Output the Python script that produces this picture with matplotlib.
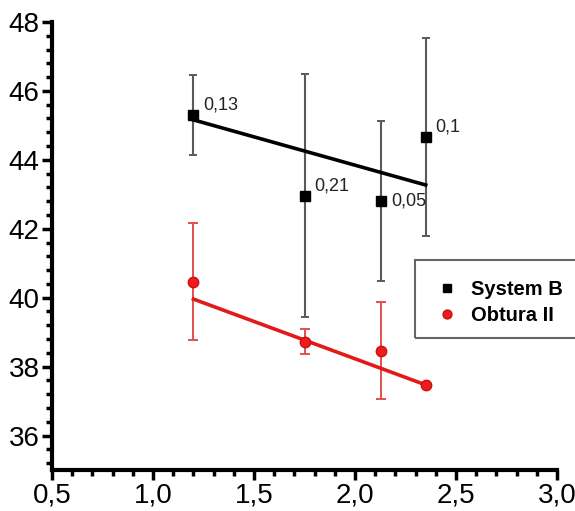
import matplotlib
matplotlib.use("Agg")
import matplotlib.pyplot as plt
from matplotlib.ticker import MultipleLocator, FuncFormatter
from matplotlib.patches import Rectangle

plt.rcParams['font.family'] = ['Liberation Sans', 'DejaVu Sans']

# Data
x_vals = [1.2, 1.75, 2.13, 2.35]
sysb_y = [45.30, 42.96, 42.81, 44.67]
sysb_err = [1.17, 3.53, 2.33, 2.88]
sysb_labels = ["0,13", "0,21", "0,05", "0,1"]
sysb_fit_x = [1.2, 2.35]
sysb_fit_y = [45.16, 43.27]

obt_y = [40.46, 38.72, 38.46, 37.47]
obt_err = [1.70, 0.36, 1.41, 0.0]
obt_fit_x = [1.2, 2.35]
obt_fit_y = [39.96, 37.47]

x_ticks = [0.5, 1.0, 1.5, 2.0, 2.5, 3.0]
y_ticks = [36, 38, 40, 42, 44, 46, 48]

fig = plt.figure(figsize=(5.75, 5.11), dpi=100)
ax = fig.add_axes([52/575, 1-470/511, (557-52)/575, (470-22)/511])

# System B
ax.errorbar(x_vals, sysb_y, yerr=sysb_err, fmt='none', ecolor='#5a5a5a',
            elinewidth=1.5, capsize=3, capthick=1.4, zorder=2)
ax.plot(sysb_fit_x, sysb_fit_y, color='black', lw=2.6, zorder=3)
ax.plot(x_vals, sysb_y, 's', color='black', ms=6.5, zorder=4, label='System B')

# Obtura II
ax.errorbar(x_vals, obt_y, yerr=obt_err, fmt='none', ecolor='#e05050',
            elinewidth=1.4, capsize=3.5, capthick=1.4, zorder=2)
ax.plot(obt_fit_x, obt_fit_y, color='#e31a1a', lw=2.6, zorder=3)
ax.plot(x_vals, obt_y, 'o', color='#ee1c1c', mec='#cc1010', ms=7.5, zorder=4, label='Obtura II')

# annotations
offsets = [(7, 1), (7, 1), (7, -6), (7, 1)]
for xv, yv, lab, off in zip(x_vals, sysb_y, sysb_labels, offsets):
    ax.annotate(lab, (xv, yv), xytext=off, textcoords='offset points',
                fontsize=13, color='#222222', va='bottom', ha='left')

ax.set_xlim(0.5, 3.0)
ax.set_ylim(35.0, 48.0)
ax.set_xticks(x_ticks)
ax.set_yticks(y_ticks)
ax.xaxis.set_minor_locator(MultipleLocator(0.1))
ax.yaxis.set_minor_locator(MultipleLocator(0.4))
ax.xaxis.set_major_formatter(FuncFormatter(lambda v, p: f"{v:.1f}".replace('.', ',')))
ax.yaxis.set_major_formatter(FuncFormatter(lambda v, p: f"{v:.0f}"))

for s in ['top', 'right']:
    ax.spines[s].set_visible(False)
for s in ['left', 'bottom']:
    ax.spines[s].set_linewidth(3)
ax.tick_params(which='major', length=7, width=2.5, labelsize=20, pad=2)
ax.tick_params(which='minor', length=4.5, width=2.5)

leg = fig.legend(loc='upper left', bbox_to_anchor=(417/575, 1-262/511),
                 frameon=False, prop={'weight': 'bold', 'size': 14.5},
                 handletextpad=0.6, handlelength=1.2, labelspacing=0.35, markerscale=0.85)
fig.patches.append(Rectangle((415/575, 1-338/511), 200/575, 78/511,
                             transform=fig.transFigure, fill=False,
                             edgecolor='#666666', lw=1.5))

fig.savefig("out.png", dpi=100)
